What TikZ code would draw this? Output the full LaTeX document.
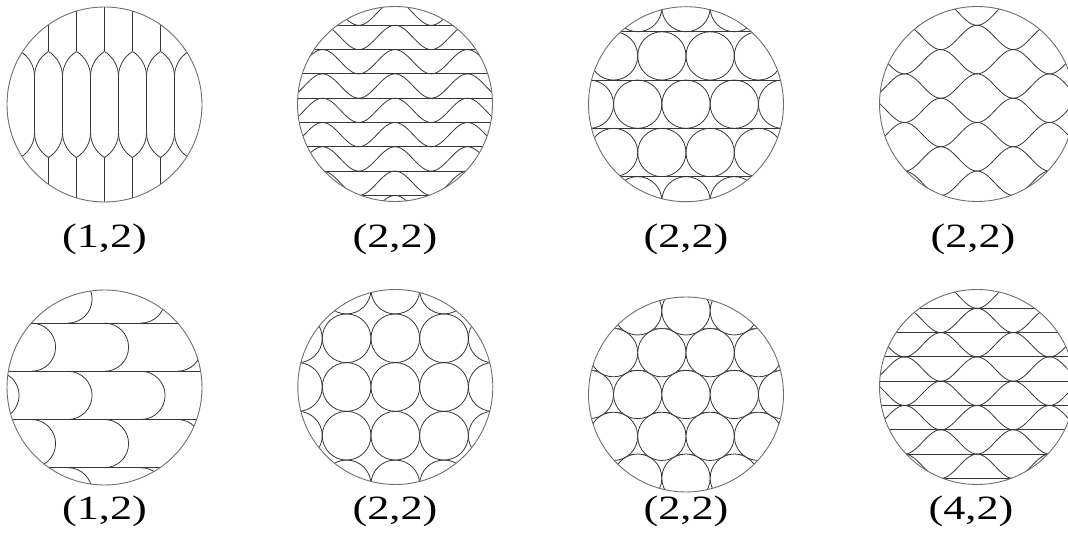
\documentclass[tikz,border=0pt]{standalone}
\usepackage{fontspec}
\setmainfont{Liberation Serif}
\definecolor{LineClr}{RGB}{55,55,55}
\definecolor{RimClr}{RGB}{110,110,110}
\newcommand{\CircR}{97.5}
\tikzset{
  pat/.style={line width=0.8pt,color=LineClr},
  rim/.style={line width=0.9pt,color=RimClr},
  lbl/.style={inner sep=0pt,font=\fontsize{34}{40}\selectfont}
}
\newcommand{\Lbl}[1]{\scalebox{1.3}[1]{#1}}

\begin{document}
\begin{tikzpicture}[x=1pt,y=1pt]
\useasboundingbox (0,0) rectangle (1068,546);

% upper row
\begin{scope}[shift={(104.5,441.5)}]
\clip (0,0) circle (\CircR);
\foreach \k in {-4,...,4}{
  \draw[pat] (28*\k,53) -- (28*\k,110);
  \draw[pat] (28*\k,-53) -- (28*\k,-110);
  \draw[pat] (28*\k+14,28) -- (28*\k+14,-28);
  \draw[pat] (28*\k+14,28) arc[start angle=0,end angle=58.5,radius=29.3];
  \draw[pat] (28*\k+14,28) arc[start angle=180,end angle=121.5,radius=29.3];
  \draw[pat] (28*\k+14,-28) arc[start angle=0,end angle=-58.5,radius=29.3];
  \draw[pat] (28*\k+14,-28) arc[start angle=180,end angle=238.5,radius=29.3];
}
\end{scope}
\draw[rim] (104.5,441.5) circle (\CircR);

\begin{scope}[shift={(395,442)}]
\clip (0,0) circle (\CircR);
\foreach \k in {-5,...,4}{
  \draw[pat] (-110,5.8+24.3*\k) -- (110,5.8+24.3*\k);
  \draw[pat] plot[domain=-110:110,samples=121,smooth]
    (\x,{5.8+24.3*\k+12.15+12.15*cos(4.9655*\x)});
}
\end{scope}
\draw[rim] (395,442) circle (\CircR);

\begin{scope}[shift={(686,441.8)}]
\clip (0,0) circle (\CircR);
\foreach \j in {-2,...,1}
  \draw[pat] (-110,24.15+48.3*\j) -- (110,24.15+48.3*\j);
\foreach \j in {-2,...,2}
  \foreach \i in {-3,...,3}
    \draw[pat] ({48.3*\i+24.15*mod(abs(\j),2)},48.3*\j) circle (24.15);
\end{scope}
\draw[rim] (686,441.8) circle (\CircR);

\begin{scope}[shift={(977,442)}]
\clip (0,0) circle (\CircR);
\foreach \k in {-5,...,4}
  \draw[pat] plot[domain=-110:110,samples=121,smooth]
    (\x,{5.8+24.3*\k+12.15+cos(180*\k)*12.15*cos(4.9655*\x)});
\end{scope}
\draw[rim] (977,442) circle (\CircR);

% lower row
\begin{scope}[shift={(104.5,158.5)}]
\clip (0,0) circle (\CircR);
\foreach \j in {-2,...,1}
  \draw[pat] (-110,16.2+48.2*\j) -- (110,16.2+48.2*\j);
\foreach \j in {-3,...,1}
  \foreach \i in {-2,...,2}
    \draw[pat] ({73*\i+36.5*mod(abs(\j),2)},{40.3+48.2*\j+24.1})
      arc[start angle=90,end angle=-90,radius=24.1];
\end{scope}
\draw[rim] (104.5,158.5) circle (\CircR);

\begin{scope}[shift={(395.3,159)}]
\clip (0,0) circle (\CircR);
\foreach \j in {-3,...,3}
  \foreach \i in {-3,...,3}
    \draw[pat] (48.7*\i,48.7*\j) circle (24.35);
\end{scope}
\draw[rim] (395.3,159) circle (\CircR);

\begin{scope}[shift={(686,151.5)}]
\clip (0,0) circle (\CircR);
\foreach \j in {-3,...,2}
  \draw[pat,color=LineClr!60] (-110,24.15+41.83*\j) -- (110,24.15+41.83*\j);
\foreach \j in {-3,...,3}
  \foreach \i in {-3,...,3}
    \draw[pat,fill=white] ({48.3*\i+24.15*mod(abs(\j),2)},41.83*\j) circle (24.15);
\end{scope}
\draw[rim] (686,151.5) circle (\CircR);

\begin{scope}[shift={(977,159)}]
\clip (0,0) circle (\CircR);
\foreach \k in {-5,...,4}{
  \draw[pat] (-110,5.8+24.3*\k) -- (110,5.8+24.3*\k);
  \draw[pat] plot[domain=-110:110,samples=121,smooth]
    (\x,{5.8+24.3*\k+12.15+cos(180*\k)*12.15*cos(4.9655*\x)});
}
\end{scope}
\draw[rim] (977,159) circle (\CircR);

% labels
\node[lbl] (lblA) at (104.5,307) {\Lbl{(1,2)}};
\node[lbl] (lblB) at (395,307) {\Lbl{(2,2)}};
\node[lbl] (lblC) at (686,307) {\Lbl{(2,2)}};
\node[lbl] (lblD) at (973,307) {\Lbl{(2,2)}};
\node[lbl] (lblE) at (104.5,34.5) {\Lbl{(1,2)}};
\node[lbl] (lblF) at (395,34.5) {\Lbl{(2,2)}};
\node[lbl] (lblG) at (686,34.5) {\Lbl{(2,2)}};
\node[lbl] (lblH) at (971,34.5) {\Lbl{(4,2)}};
\end{tikzpicture}
\end{document}
